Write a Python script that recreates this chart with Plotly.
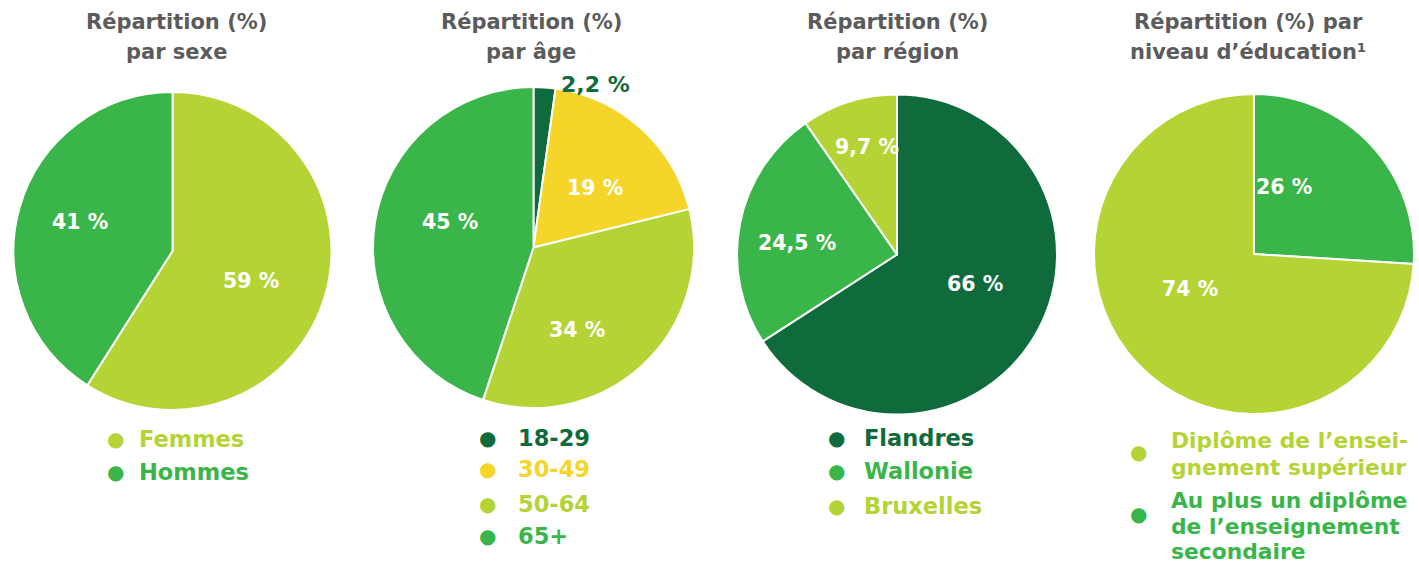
import plotly.graph_objects as go

# ---------------- data ----------------
sexe_labels = ["Femmes", "Hommes"]
sexe_values = [59, 41]
sexe_text = ["59 %", "41 %"]

age_labels = ["18-29", "30-49", "50-64", "65+"]
age_values = [2.2, 19, 34, 45]
age_text = ["2,2 %", "19 %", "34 %", "45 %"]

region_labels = ["Flandres", "Wallonie", "Bruxelles"]
region_values = [66, 24.5, 9.7]
region_text = ["66 %", "24,5 %", "9,7 %"]

edu_labels = ["Au plus un diplôme de l’enseignement secondaire",
              "Diplôme de l’enseignement supérieur"]
edu_values = [26, 74]
edu_text = ["26 %", "74 %"]
edu_legend = [["Au plus un diplôme", "de l’enseignement", "secondaire"],
              ["Diplôme de l’ensei-", "gnement supérieur"]]

titles = [("Répartition (%)", "par sexe"),
          ("Répartition (%)", "par âge"),
          ("Répartition (%)", "par région"),
          ("Répartition (%) par", "niveau d’éducation¹")]

# ---------------- style ----------------
W, H = 1419, 563
LIGHT = "#b4d335"
MED = "#3ab54a"
DARK = "#0f6b3b"
YEL = "#f6d52a"
GRAY = "#5b5b5c"
FONT = "DejaVu Sans"

sexe_colors = [LIGHT, MED]
age_colors = [DARK, YEL, LIGHT, MED]
region_colors = [DARK, MED, LIGHT]
edu_colors = [MED, LIGHT]

# pie geometry (centre x, centre y, radius) in pixels
geom = [(172.5, 251, 159), (533.5, 247.5, 160.5), (897, 254.5, 160), (1254, 254, 160)]

# label anchor positions in pixels (slice order)
label_pos = [
    [(251, 281), (80, 222)],
    [(595, 85), (595, 188), (577, 330), (450, 222)],
    [(975, 284), (797, 243), (867, 147)],
    [(1284, 187), (1190, 289)],
]


def dom(cx, cy, r):
    return dict(x=[(cx - r) / W, (cx + r) / W], y=[1 - (cy + r) / H, 1 - (cy - r) / H])


def px(x, y):
    return x / W, 1 - y / H


fig = go.Figure()

pies = [
    (sexe_labels, sexe_values, sexe_text, sexe_colors),
    (age_labels, age_values, age_text, age_colors),
    (region_labels, region_values, region_text, region_colors),
    (edu_labels, edu_values, edu_text, edu_colors),
]
ann = []
for (lab, val, txt, col), g, lp in zip(pies, geom, label_pos):
    fig.add_trace(go.Pie(
        labels=lab, values=val, text=txt, textinfo="none",
        marker=dict(colors=col, line=dict(color="white", width=2)),
        sort=False, direction="clockwise", rotation=0,
        domain=dom(*g), showlegend=False,
        hovertemplate="%{label}: %{text}<extra></extra>",
    ))
    for t, c, (x, y) in zip(txt, col, lp):
        small = (t == "2,2 %")
        xx, yy = px(x, y)
        ann.append(dict(text=t, x=xx, y=yy, xref="paper", yref="paper",
                        xanchor="center", yanchor="middle", showarrow=False,
                        font=dict(family=FONT, size=22 if small else 20.5,
                                  color=c if small else "white", weight="bold")))

# titles
title_x = [176, 531, 897, 1248]
for (l1, l2), x in zip(titles, title_x):
    for t, y in ((l1, 22), (l2, 52)):
        xx, yy = px(x, y)
        ann.append(dict(text=t, x=xx, y=yy, xref="paper", yref="paper",
                        xanchor="center", yanchor="middle", showarrow=False,
                        font=dict(family=FONT, size=21, color=GRAY, weight="bold")))

# legends: (dot x, text x, font size, [(dot y, [text line ys], [lines], color)])
legends = [
    (115, 137, 22.5, [(439, [439], [sexe_labels[0]], sexe_colors[0]),
                      (472, [472], [sexe_labels[1]], sexe_colors[1])]),
    (487, 516, 22.5, [(y, [y], [age_labels[i]], age_colors[i])
                      for i, y in enumerate([438, 469, 504, 536])]),
    (836, 862, 22.5, [(y, [y], [region_labels[i]], region_colors[i])
                      for i, y in enumerate([438, 471, 506])]),
    (1138, 1169, 21.8, [(452, [440, 467], edu_legend[1], edu_colors[1]),
                        (514, [500, 526, 551], edu_legend[0], edu_colors[0])]),
]
for dx, tx, fs, items in legends:
    for dy, tys, lines, col in items:
        xx, yy = px(dx, dy)
        ann.append(dict(text="●", x=xx, y=yy, xref="paper", yref="paper",
                        xanchor="center", yanchor="middle", showarrow=False,
                        font=dict(family="DejaVu Sans", size=20, color=col)))
        for ty, line in zip(tys, lines):
            xx, yy = px(tx, ty)
            ann.append(dict(text=line, x=xx, y=yy, xref="paper", yref="paper",
                            xanchor="left", yanchor="middle", align="left", showarrow=False,
                            font=dict(family=FONT, size=fs, color=col, weight="bold")))

fig.update_layout(
    width=W, height=H, margin=dict(l=0, r=0, t=0, b=0),
    paper_bgcolor="white", plot_bgcolor="white",
    annotations=ann,
)
fig.write_html("out.html", config={"displayModeBar": False},
               post_script="document.body.style.margin='0';document.body.style.overflow='hidden';")
